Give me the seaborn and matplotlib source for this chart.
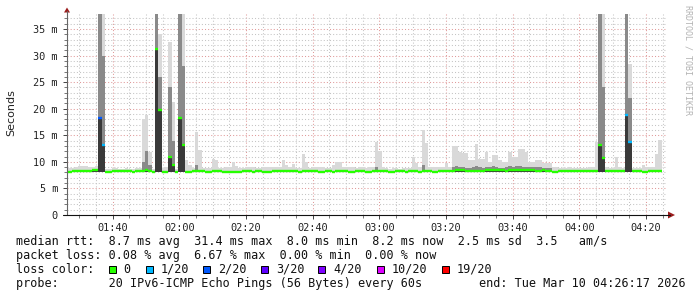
import numpy as np
import pandas as pd
import matplotlib
matplotlib.use("Agg")
import matplotlib.pyplot as plt
import seaborn as sns
from matplotlib.patches import Rectangle, Polygon
from matplotlib.lines import Line2D
from matplotlib.ticker import FixedLocator, FixedFormatter

# ---------------- data (ms, one value per 60 s step) ----------------
first_step = "01:26:41"          # start of first step
axis_start = "01:26:17"
axis_end = "04:26:17"

median_ms = [
    8.0, 8.2, 8.2, 8.2, 8.2, 8.2, 8.2, 8.4, 8.5, 18.2,
    13.2, 8.1, 8.1, 8.2, 8.2, 8.2, 8.2, 8.2, 8.2, 8.1,
    8.2, 8.2, 8.2, 8.4, 8.2, 8.0, 31.2, 19.8, 8.1, 8.1,
    10.9, 9.5, 8.1, 18.2, 13.2, 8.1, 8.1, 8.2, 8.2, 8.2,
    8.2, 8.1, 8.1, 8.2, 8.2, 8.2, 8.1, 8.1, 8.0, 8.0,
    8.1, 8.1, 8.2, 8.2, 8.2, 8.1, 8.2, 8.2, 8.1, 8.1,
    8.1, 8.2, 8.2, 8.2, 8.2, 8.2, 8.3, 8.2, 8.2, 8.1,
    8.3, 8.3, 8.2, 8.2, 8.2, 8.1, 8.1, 8.2, 8.2, 8.1,
    8.2, 8.2, 8.2, 8.2, 8.1, 8.1, 8.2, 8.2, 8.2, 8.1,
    8.1, 8.2, 8.2, 8.2, 8.2, 8.2, 8.1, 8.1, 8.2, 8.2,
    8.2, 8.1, 8.2, 8.2, 8.2, 8.1, 8.2, 8.2, 8.2, 8.1,
    8.1, 8.2, 8.2, 8.2, 8.2, 8.3, 8.4, 8.5, 8.5, 8.3,
    8.3, 8.3, 8.3, 8.3, 8.3, 8.4, 8.5, 8.5, 8.4, 8.4,
    8.4, 8.3, 8.5, 8.5, 8.4, 8.4, 8.5, 8.5, 8.4, 8.4,
    8.3, 8.3, 8.4, 8.3, 8.2, 8.1, 8.1, 8.2, 8.2, 8.2,
    8.2, 8.2, 8.2, 8.2, 8.2, 8.2, 8.2, 8.2, 8.2, 13.2,
    10.7, 8.2, 8.2, 8.2, 8.2, 8.2, 8.2, 18.9, 13.8, 8.2,
    8.2, 8.2, 8.1, 8.1, 8.2, 8.2, 8.2, 8.2,
]

smoke_max_ms = [
    8.9, 8.9, 9.0, 9.2, 9.3, 9.3, 9.1, 9.0, 9.2, 37.8,
    37.8, 8.7, 8.7, 8.8, 8.8, 8.7, 8.7, 8.8, 8.7, 8.7,
    8.8, 8.8, 18.0, 18.8, 11.9, 8.7, 37.8, 34.0, 8.9, 9.0,
    32.6, 21.2, 8.7, 37.8, 37.8, 10.4, 9.4, 8.8, 15.7, 12.2,
    8.9, 8.8, 8.9, 10.5, 10.3, 8.9, 8.9, 9.1, 9.1, 10.0,
    9.3, 8.8, 8.8, 9.0, 9.0, 9.0, 8.8, 8.8, 9.0, 9.0,
    9.0, 9.0, 9.0, 9.0, 10.3, 9.4, 9.0, 9.6, 8.9, 8.9,
    11.5, 10.0, 8.9, 9.1, 9.1, 9.1, 9.1, 8.9, 8.9, 9.5,
    10.0, 10.0, 9.0, 9.0, 9.0, 9.0, 8.9, 9.0, 9.0, 8.9,
    9.0, 9.0, 13.8, 12.0, 9.1, 8.8, 8.7, 8.9, 8.8, 8.7,
    8.9, 8.8, 8.8, 10.9, 9.8, 9.0, 16.0, 13.6, 9.1, 9.1,
    9.0, 9.1, 9.1, 9.7, 9.0, 12.9, 12.9, 11.9, 11.6, 11.6,
    10.4, 10.4, 13.4, 10.5, 10.5, 11.9, 10.0, 11.3, 11.3, 10.4,
    10.0, 10.0, 11.9, 11.0, 11.0, 12.5, 12.5, 11.9, 10.0, 10.0,
    10.4, 10.4, 9.8, 9.7, 9.7, 9.1, 9.1, 8.8, 8.8, 8.8,
    9.1, 8.8, 8.8, 8.8, 8.8, 8.8, 9.1, 9.1, 13.8, 37.8,
    37.8, 9.0, 8.8, 8.8, 11.0, 9.0, 8.9, 37.8, 28.5, 8.9,
    8.8, 8.8, 9.4, 9.0, 9.1, 9.1, 11.5, 14.2,
]

smoke_mid_ms = [
    8.0, 8.2, 8.2, 8.2, 8.2, 8.2, 8.2, 8.4, 8.5, 37.8,
    30.0, 8.1, 8.1, 8.2, 8.2, 8.2, 8.2, 8.2, 8.2, 8.1,
    8.2, 8.2, 10.0, 12.0, 9.5, 8.0, 37.8, 26.0, 8.1, 8.1,
    24.0, 14.0, 8.1, 37.8, 28.0, 8.1, 8.1, 8.2, 9.5, 8.2,
    8.2, 8.1, 8.1, 8.2, 8.2, 8.2, 8.1, 8.1, 8.0, 8.0,
    8.1, 8.1, 8.2, 8.2, 8.2, 8.1, 8.2, 8.2, 8.1, 8.1,
    8.1, 8.2, 8.2, 8.2, 8.2, 8.2, 8.3, 8.2, 8.2, 8.1,
    8.3, 8.3, 8.2, 8.2, 8.2, 8.1, 8.1, 8.2, 8.2, 8.1,
    8.2, 8.2, 8.2, 8.2, 8.1, 8.1, 8.2, 8.2, 8.2, 8.1,
    8.1, 8.2, 9.0, 8.2, 8.2, 8.2, 8.1, 8.1, 8.2, 8.2,
    8.2, 8.1, 8.2, 8.2, 8.2, 8.1, 9.5, 8.2, 8.2, 8.1,
    8.1, 8.2, 8.2, 8.2, 8.2, 9.0, 9.2, 9.1, 9.0, 8.9,
    8.9, 9.0, 9.2, 9.0, 8.9, 9.1, 9.0, 9.2, 9.1, 8.9,
    8.9, 9.0, 9.2, 9.1, 9.2, 9.2, 9.1, 9.0, 9.0, 9.1,
    9.1, 9.0, 8.9, 8.9, 8.8, 8.1, 8.1, 8.2, 8.2, 8.2,
    8.2, 8.2, 8.2, 8.2, 8.2, 8.2, 8.2, 8.2, 8.2, 37.8,
    24.0, 8.2, 8.2, 8.2, 8.2, 8.2, 8.2, 37.8, 22.0, 8.2,
    8.2, 8.2, 8.1, 8.1, 8.2, 8.2, 8.2, 8.2,
]

ping_min_ms = 8.0

loss_count = [
    0, 0, 0, 0, 0, 0, 0, 0, 0, 2, 1, 0, 0, 0, 0, 0, 0, 0, 0, 0,
    0, 0, 0, 0, 0, 0, 0, 0, 0, 0, 0, 0, 0, 0, 0, 0, 0, 0, 0, 0,
    0, 0, 0, 0, 0, 0, 0, 0, 0, 0, 0, 0, 0, 0, 0, 0, 0, 0, 0, 0,
    0, 0, 0, 0, 0, 0, 0, 0, 0, 0, 0, 0, 0, 0, 0, 0, 0, 0, 0, 0,
    0, 0, 0, 0, 0, 0, 0, 0, 0, 0, 0, 0, 0, 0, 0, 0, 0, 0, 0, 0,
    0, 0, 0, 0, 0, 0, 0, 0, 0, 0, 0, 0, 0, 0, 0, 0, 0, 0, 0, 0,
    0, 0, 0, 0, 0, 0, 0, 0, 0, 0, 0, 0, 0, 0, 0, 0, 0, 0, 0, 0,
    0, 0, 0, 0, 0, 0, 0, 0, 0, 0, 0, 0, 0, 0, 0, 0, 0, 0, 0, 0,
    0, 0, 0, 0, 0, 0, 0, 1, 1, 0, 0, 0, 0, 0, 0, 0, 0, 0,
]

loss_labels = ["0", "1/20", "2/20", "3/20", "4/20", "10/20", "19/20"]
loss_values = [0, 1, 2, 3, 4, 10, 19]
loss_colors = ["#26ff00", "#00b8ff", "#0059ff", "#5e00ff", "#7e00ff", "#dd00ff", "#ff0000"]

xtick_labels = ["01:40", "02:00", "02:20", "02:40", "03:00", "03:20", "03:40", "04:00", "04:20"]
ytick_labels = ["0", "5 m", "10 m", "15 m", "20 m", "25 m", "30 m", "35 m"]

stats_lines = [
    "median rtt:  8.7 ms avg  31.4 ms max  8.0 ms min  8.2 ms now  2.5 ms sd  3.5   am/s",
    "packet loss: 0.08 % avg  6.67 % max  0.00 % min  0.00 % now",
]
probe_line = "probe:       20 IPv6-ICMP Echo Pings (56 Bytes) every 60s"
end_line = "end: Tue Mar 10 04:26:17 2026"


def to_min(hms):
    h, m, s = (int(v) for v in hms.split(":"))
    return h * 60 + m + s / 60


# ---------------- figure ----------------
sns.set_theme(style="white")
plt.rcParams["font.family"] = ["DejaVu Sans"]

W, H = 697, 297
fig = plt.figure(figsize=(W / 100, H / 100), dpi=100)
fig.patch.set_facecolor("white")


def fx(px):
    return px / W


def fy(py):
    return 1 - py / H


ax = fig.add_axes([fx(67), fy(215), 600 / W, 201 / H])
ax.set_facecolor("white")

n = len(median_ms)
x_start = to_min(first_step) + np.arange(n)
edges = np.append(x_start, x_start[-1] + 1)


def ext(a):
    a = np.asarray(a, dtype=float)
    return np.append(a, a[-1])


lo = np.full(n + 1, ping_min_ms)
ax.fill_between(edges, lo, ext(smoke_max_ms), step="post", color="#d9d9d9", lw=0, zorder=2)
ax.fill_between(edges, lo, ext(smoke_mid_ms), step="post", color="#8a8a8a", lw=0, zorder=3)
ax.fill_between(edges, lo, np.maximum(lo, ext(median_ms)), step="post", color="#3a3a3a", lw=0, zorder=4)

# median segments coloured by loss
lab_of = dict(zip(loss_values, loss_labels))
rows = []
for k in range(n):
    lab = lab_of[loss_count[k]]
    rows.append((x_start[k], median_ms[k], k, lab))
    rows.append((x_start[k] + 1, median_ms[k], k, lab))
df = pd.DataFrame(rows, columns=["t", "ms", "seg", "loss"])
sns.lineplot(data=df, x="t", y="ms", units="seg", estimator=None, hue="loss",
             palette=dict(zip(loss_labels, loss_colors)), legend=False,
             linewidth=1.7, ax=ax, zorder=5, solid_capstyle="butt")

x0, x1 = to_min(axis_start), to_min(axis_end)
ax.set_xlim(x0, x1)
ax.set_ylim(0, 201 / 5.314)
ax.set_xlabel("")
ax.set_ylabel("")

xmaj = [100 + 20 * i for i in range(len(xtick_labels))]
ax.xaxis.set_major_locator(FixedLocator(xmaj))
ax.xaxis.set_major_formatter(FixedFormatter(xtick_labels))
ax.xaxis.set_minor_locator(FixedLocator(list(range(90, 266, 5))))
ymaj = [5 * i for i in range(len(ytick_labels))]
ax.yaxis.set_major_locator(FixedLocator(ymaj))
ax.yaxis.set_major_formatter(FixedFormatter(ytick_labels))
ax.yaxis.set_minor_locator(FixedLocator(list(range(0, 38))))

ax.grid(which="minor", color="#c4c4c4", linestyle=(0, (1, 2)), linewidth=0.75)
ax.grid(which="major", color="#e09a9a", linestyle=(0, (1, 2)), linewidth=0.75)
ax.set_axisbelow(True)

for s in ax.spines.values():
    s.set_visible(False)

ax.tick_params(axis="both", which="major", length=3, width=0.7, color="#444444",
               labelsize=7.4, labelcolor="#222222", direction="out")
ax.tick_params(axis="both", which="minor", length=2, width=0.7, color="#777777", direction="out")
ax.tick_params(axis="y", which="major", pad=3.5, left=True)
ax.tick_params(axis="y", which="minor", left=True)
ax.tick_params(axis="x", which="major", pad=2.5, bottom=True)
ax.tick_params(axis="x", which="minor", bottom=True)
for lbl in ax.get_xticklabels() + ax.get_yticklabels():
    lbl.set_family("DejaVu Sans Mono")

# axis lines and arrows
fig.add_artist(Line2D([fx(67), fx(67)], [fy(215), fy(11)], color="#666666", lw=0.8))
fig.add_artist(Line2D([fx(63), fx(670)], [fy(215), fy(215)], color="#111111", lw=0.8))
fig.add_artist(Polygon([(fx(64), fy(12.5)), (fx(70), fy(12.5)), (fx(67), fy(7.5))],
                       closed=True, color="#9b1c1c", lw=0))
fig.add_artist(Polygon([(fx(668), fy(211.5)), (fx(668), fy(218.5)), (fx(675), fy(215))],
                       closed=True, color="#9b1c1c", lw=0))

# labels
fig.text(fx(11), fy(113), "Seconds", rotation=90, ha="center", va="center",
         fontsize=8, color="#222222", family="DejaVu Sans")
fig.text(fx(688), fy(60), "RRDTOOL / TOBI OETIKER", rotation=270, ha="center", va="center",
         fontsize=6, color="#b3b3b3", family="DejaVu Sans Mono")

mono = dict(family="DejaVu Sans Mono", fontsize=8.5, color="#111111", va="baseline", ha="left")
fig.text(fx(16), fy(245), stats_lines[0], **mono)
fig.text(fx(16), fy(259), stats_lines[1], **mono)
fig.text(fx(16), fy(273), "loss color:", **mono)
square_px = [108.7, 146, 203, 261, 318, 377, 442]
for sx, lab, col in zip(square_px, loss_labels, loss_colors):
    fig.add_artist(Rectangle((fx(sx), fy(273)), 7 / W, 7 / H, facecolor=col,
                             edgecolor="#000000", lw=0.7, transform=fig.transFigure))
    fig.text(fx(sx + 15), fy(273), lab, **mono)
fig.text(fx(16), fy(287), probe_line, **mono)
fig.text(fx(479), fy(287), end_line, **mono)

fig.savefig("out.png", dpi=100, facecolor="white")
